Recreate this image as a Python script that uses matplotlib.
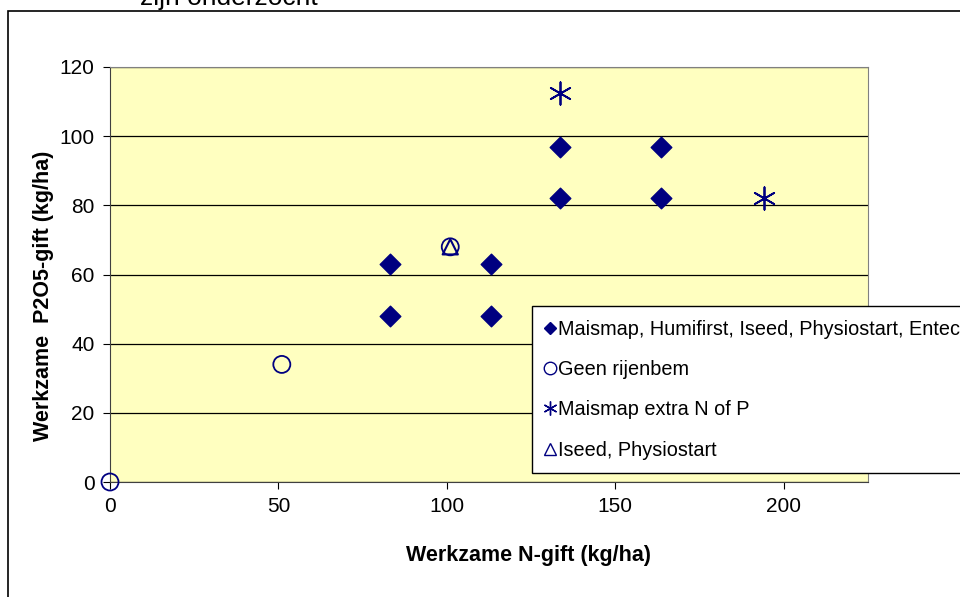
import matplotlib
matplotlib.use("Agg")
import matplotlib.pyplot as plt
from matplotlib.patches import Rectangle
from matplotlib.lines import Line2D

plt.rcParams['font.family'] = ['Liberation Sans', 'DejaVu Sans']

# Data
diamond_x = [83, 83, 113, 113, 133.5, 133.5, 163.5, 163.5]
diamond_y = [63, 48, 63, 48, 97, 82, 97, 82]
circle_x = [0, 51, 101]
circle_y = [0, 34, 68]
star_x = [133.5, 194]
star_y = [112.5, 82]
tri_x = [101]
tri_y = [68]
labels = ["Maismap, Humifirst, Iseed, Physiostart, Entec",
          "Geen rijenbem",
          "Maismap extra N of P",
          "Iseed, Physiostart"]
xticks = [0, 50, 100, 150, 200]
yticks = [0, 20, 40, 60, 80, 100, 120]

navy = '#000080'
fig = plt.figure(figsize=(9.6, 5.97), dpi=100)
ax = fig.add_axes([110/960, 1-482/597, (868-110)/960, (482-67)/597])
ax.set_facecolor('#FFFFC0')

ax.scatter(diamond_x, diamond_y, marker='D', s=110, color=navy, zorder=3, clip_on=False)
ax.scatter(circle_x, circle_y, marker='o', s=150, facecolors='none', edgecolors=navy, linewidths=1.3, zorder=3, clip_on=False)
ax.scatter(star_x, star_y, marker=(6, 2, 0), s=260, color=navy, linewidths=1.3, zorder=3, clip_on=False)
ax.scatter(tri_x, tri_y, marker='^', s=120, facecolors='none', edgecolors=navy, linewidths=1.5, zorder=3, clip_on=False)

ax.set_xlim(0, 225)
ax.set_ylim(0, 120)
ax.set_xticks(xticks)
ax.set_yticks(yticks)
ax.yaxis.grid(True, color='#000000', linewidth=0.9)
ax.set_axisbelow(True)
for side in ['top', 'right']:
    ax.spines[side].set_color('#808080')
for side in ['left', 'bottom']:
    ax.spines[side].set_color('#404040')
ax.tick_params(direction='out', length=5, labelsize=15, colors='black', pad=6)

fig.text(528/960, 1-555/597, 'Werkzame N-gift (kg/ha)', fontsize=15.5, fontweight='bold',
         ha='center', va='center')
fig.text(44/960, 1-296/597, 'Werkzame  P2O5-gift (kg/ha)', fontsize=15.5, fontweight='bold',
         ha='center', va='center', rotation=90)

handles = [
    Line2D([], [], marker='D', linestyle='none', color=navy, markersize=6),
    Line2D([], [], marker='o', linestyle='none', markerfacecolor='none', markeredgecolor=navy, markersize=9),
    Line2D([], [], marker=(6, 2, 0), linestyle='none', color=navy, markersize=10),
    Line2D([], [], marker='^', linestyle='none', markerfacecolor='none', markeredgecolor=navy, markersize=9),
]
leg = fig.legend(handles, labels, loc='upper left', bbox_to_anchor=(532/960, 1-306/597),
                 fontsize=14.3, frameon=True, fancybox=False, edgecolor='black', framealpha=1,
                 handlelength=0.5, handletextpad=0.15, borderpad=0.68, labelspacing=1.08,
                 borderaxespad=0)
leg.get_frame().set_linewidth(1.0)

fig.text(229/960, 1-5/597, 'zijn onderzocht', fontsize=19, ha='center', va='baseline')
fig.patches.append(Rectangle((8/960, -0.1), 1.2, 1.1 - 11/597, transform=fig.transFigure,
                             fill=False, edgecolor='black', linewidth=1.2))

fig.savefig('out.png', dpi=100)
